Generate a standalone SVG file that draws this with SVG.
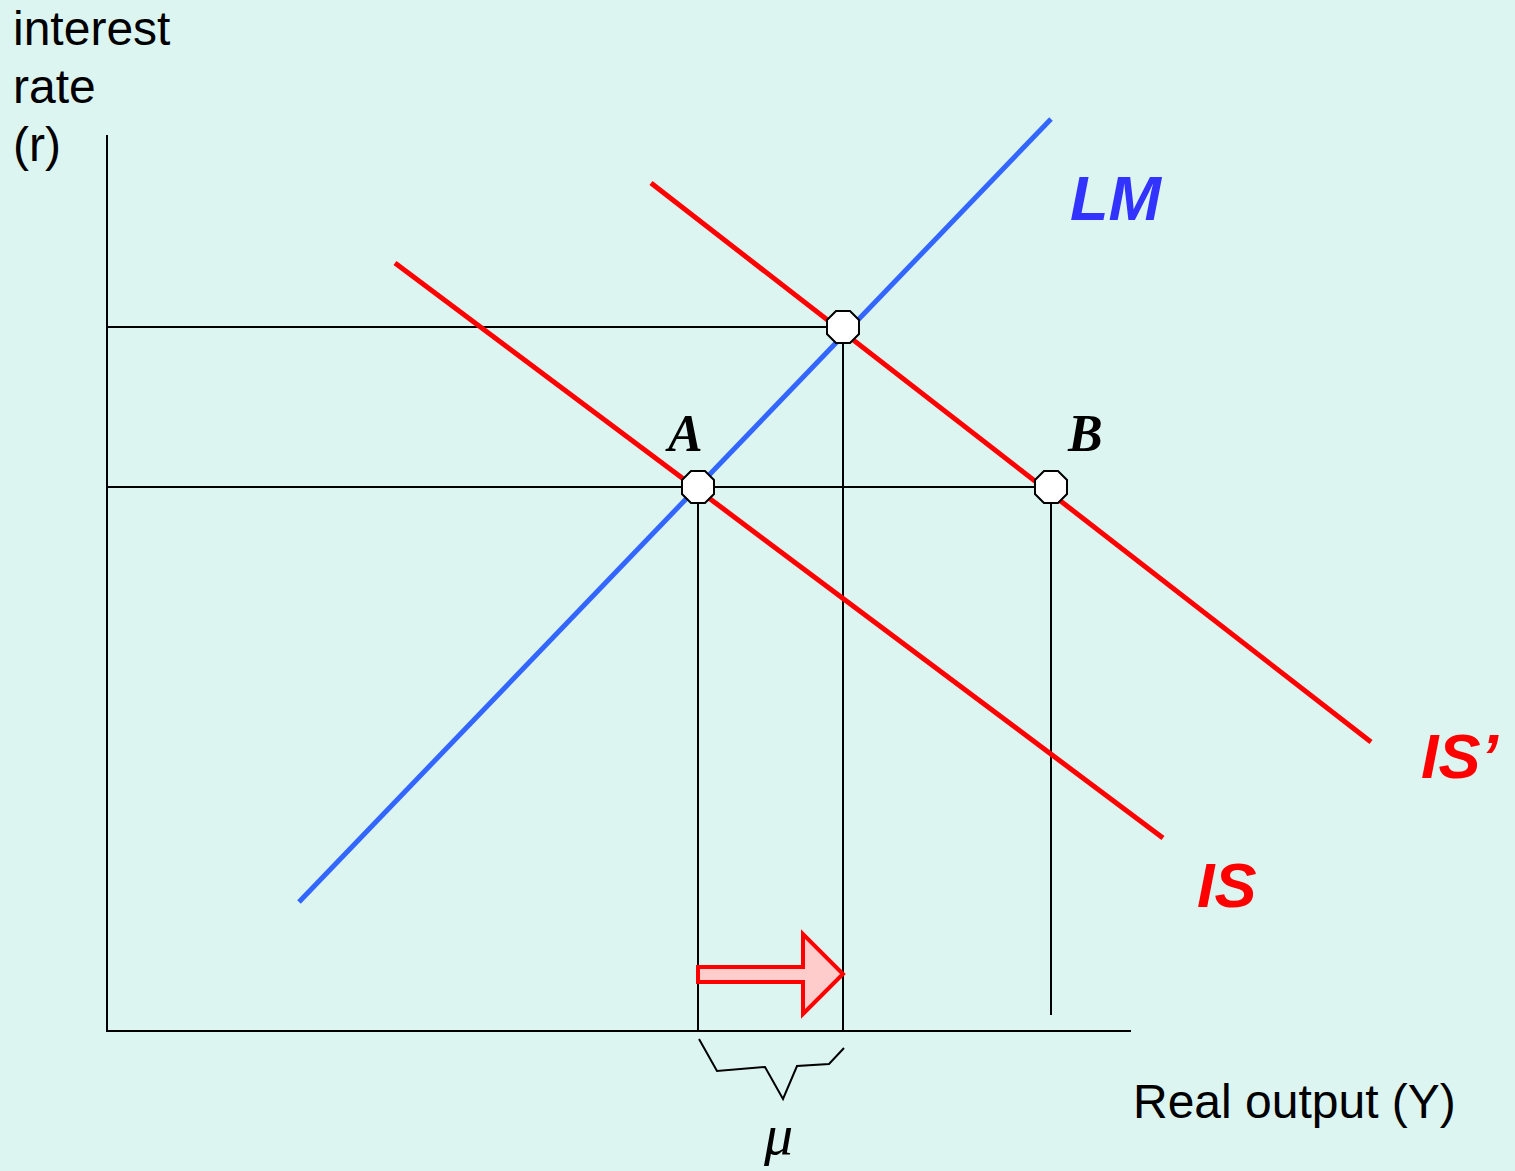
<svg xmlns="http://www.w3.org/2000/svg" width="1515" height="1171" viewBox="0 0 1515 1171">
<style>
.thin{stroke:#000;stroke-width:2;fill:none}
.red{stroke:#FF0000;stroke-width:5;fill:none}
.blue{stroke:#3366FF;stroke-width:5;fill:none}
.txt{font-family:"Liberation Sans",Arial,sans-serif;font-size:48px;fill:#000}
.lbl{font-family:"Liberation Sans",Arial,sans-serif;font-weight:bold;font-style:italic;font-size:63px}
.pt{font-family:"Liberation Serif","Times New Roman",serif;font-style:italic;font-weight:bold;font-size:52px;fill:#000}
.oct{fill:#fff;stroke:#000;stroke-width:2}
</style>
<defs>
<polygon id="oct" class="oct" points="-7,-16 7,-16 16,-7 16,7 7,16 -7,16 -16,7 -16,-7"/>
</defs>
<rect width="1515" height="1171" fill="#DCF5F1"/>
<g id="axes">
<line class="thin" x1="107" y1="135" x2="107" y2="1031"/>
<line class="thin" x1="106" y1="1031" x2="1131" y2="1031"/>
</g>
<g id="connectors">
<line class="thin" x1="107" y1="327" x2="843" y2="327"/>
<line class="thin" x1="107" y1="487" x2="1051" y2="487"/>
<line class="thin" x1="698" y1="487" x2="698" y2="1031"/>
<line class="thin" x1="843" y1="327" x2="843" y2="1031"/>
<line class="thin" x1="1051" y1="487" x2="1051" y2="1015"/>
</g>
<g id="curves">
<line id="LM" class="blue" x1="299" y1="902" x2="1051" y2="119"/>
<line id="IS" class="red" x1="395" y1="263" x2="1163" y2="838"/>
<line id="ISp" class="red" x1="651" y1="183" x2="1371" y2="742"/>
</g>
<g id="pointA"><use href="#oct" x="698" y="487"/><text class="pt" x="668" y="451">A</text></g>
<g id="pointC"><use href="#oct" x="843" y="327"/></g>
<g id="pointB"><use href="#oct" x="1051" y="487"/><text class="pt" x="1068" y="451">B</text></g>
<g id="shift">
<polygon points="698,967 803,967 803,934 843,974 803,1014 803,982 698,982" fill="#FFCCCC" stroke="#FF0000" stroke-width="4"/>
</g>
<g id="brace">
<polyline class="thin" points="699,1039 717,1071 765,1067 783,1099 797,1066 829,1064 844,1048"/>
<text x="764" y="1154" font-family="'Liberation Serif','Times New Roman',serif" font-style="italic" font-size="58" fill="#000">μ</text>
</g>
<g id="labels">
<text class="lbl" x="1070" y="220" fill="#3333FF">LM</text>
<text class="lbl" x="1197" y="907" fill="#FF0000">IS</text>
<text class="lbl" x="1421" y="778" fill="#FF0000">IS’</text>
<text class="txt" x="13" y="45">interest</text>
<text class="txt" x="13" y="103">rate</text>
<text class="txt" x="13" y="161">(r)</text>
<text class="txt" x="1133" y="1118">Real output (Y)</text>
</g>
</svg>
